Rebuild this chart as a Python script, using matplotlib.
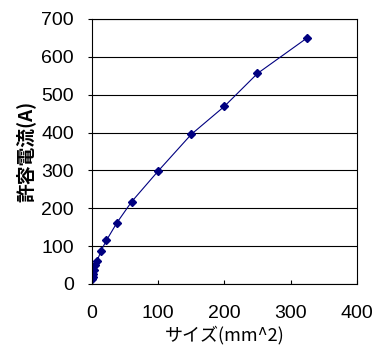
import matplotlib
matplotlib.use("Agg")
from matplotlib import pyplot as plt

# 電線サイズと許容電流
size_mm2 = [0.9, 1.25, 2, 3.5, 5.5, 8, 14, 22, 38, 60, 100, 150, 200, 250, 325]
current_a = [12, 19, 27, 37, 49, 61, 88, 115, 162, 217, 298, 395, 469, 556, 650]

xticks = [0, 100, 200, 300, 400]
yticks = [0, 100, 200, 300, 400, 500, 600, 700]

jp = ['Noto Sans CJK JP', 'DejaVu Sans']
num = ['Liberation Sans', 'DejaVu Sans']

fig = plt.figure(figsize=(3.78, 3.58), dpi=100)
ax = fig.add_axes([0.243, 0.207, 0.701, 0.740])

ax.plot(size_mm2, current_a, color='#000080', lw=0.8, marker='D', ms=4.5,
        mfc='#000080', mec='#000080')

ax.set_xlim(0, 400)
ax.set_ylim(0, 700)
ax.set_xticks(xticks)
ax.set_yticks(yticks)
ax.yaxis.grid(True, color='black', lw=0.8)
ax.set_axisbelow(True)
for s in ax.spines.values():
    s.set_linewidth(0.8)
ax.tick_params(axis='y', direction='out', length=3, width=0.8, labelsize=14, pad=10)
ax.tick_params(axis='x', direction='in', length=3, width=0.8, labelsize=14, pad=15)
for lab in ax.get_xticklabels() + ax.get_yticklabels():
    lab.set_family(num)

ax.set_xlabel('サイズ(mm^2)', family=jp, fontsize=13, labelpad=3)
ax.set_ylabel('許容電流(A)', family=jp, fontsize=13.5, fontweight='bold', labelpad=4)

fig.savefig('out.png', dpi=100)
